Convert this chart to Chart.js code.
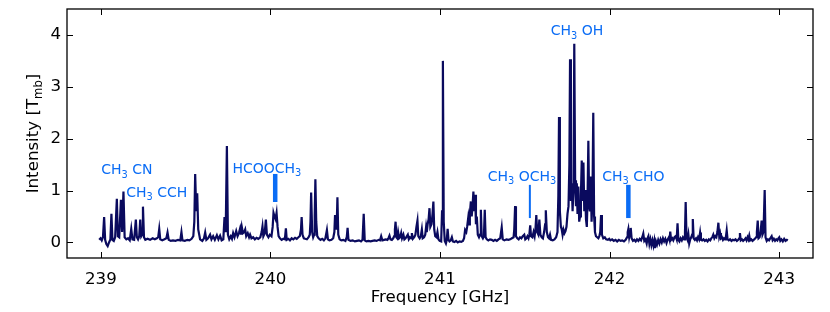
<!DOCTYPE html>
<html>
<head>
<meta charset="utf-8">
<title>Spectrum 239-243 GHz</title>
<script src="https://cdn.jsdelivr.net/npm/chart.js@4.4.1/dist/chart.umd.min.js"></script>
<style>
  html, body { margin: 0; padding: 0; background: #fff; }
  canvas { display: block; }
</style>
</head>
<body>
<canvas id="myChart" width="830" height="312"></canvas>
<script>
// spectrum: [frequency GHz, intensity T_mb], one array per GHz
const band239 = [
  [238.990, 0.05], [238.998, 0.08], [239.005, 0.04], [239.012, 0.10], [239.019, 0.49], [239.025, 0.05],
  [239.032, -0.03], [239.040, -0.07], [239.048, 0.00], [239.056, 0.06], [239.062, 0.55], [239.068, 0.05],
  [239.076, 0.03], [239.084, 0.10], [239.094, 0.84], [239.100, 0.12], [239.108, 0.10], [239.118, 0.82],
  [239.125, 0.20], [239.133, 0.98], [239.140, 0.10], [239.150, 0.06], [239.160, 0.08], [239.170, 0.04],
  [239.179, 0.26], [239.186, 0.06], [239.196, 0.05], [239.206, 0.44], [239.212, 0.10], [239.219, 0.06],
  [239.226, 0.12], [239.232, 0.44], [239.238, 0.12], [239.243, 0.15], [239.248, 0.69], [239.254, 0.10],
  [239.262, 0.05], [239.275, 0.07], [239.290, 0.05], [239.305, 0.08], [239.318, 0.06], [239.330, 0.08],
  [239.338, 0.10], [239.344, 0.26], [239.350, 0.06], [239.362, 0.04], [239.375, 0.06], [239.386, 0.08],
  [239.393, 0.19], [239.400, 0.05], [239.412, 0.03], [239.425, 0.04], [239.440, 0.03], [239.455, 0.05],
  [239.468, 0.04], [239.475, 0.20], [239.481, 0.04], [239.495, 0.03], [239.510, 0.05], [239.522, 0.04],
  [239.535, 0.07], [239.545, 0.12], [239.551, 0.40], [239.556, 1.32], [239.562, 0.60], [239.568, 0.95],
  [239.574, 0.25], [239.585, 0.06], [239.598, 0.03], [239.608, 0.08], [239.615, 0.19], [239.622, 0.05],
  [239.632, 0.08], [239.644, 0.15], [239.652, 0.06], [239.662, 0.12], [239.672, 0.05], [239.684, 0.14],
  [239.693, 0.06], [239.703, 0.13], [239.712, 0.04], [239.722, 0.06], [239.729, 0.49], [239.736, 0.20],
  [239.743, 1.86], [239.749, 0.15], [239.757, 0.06], [239.766, 0.12], [239.773, 0.07], [239.780, 0.18],
  [239.788, 0.10], [239.798, 0.22], [239.806, 0.12], [239.814, 0.18], [239.821, 0.27], [239.826, 0.15],
  [239.831, 0.30], [239.838, 0.18], [239.845, 0.20], [239.851, 0.25], [239.857, 0.12], [239.866, 0.18],
  [239.874, 0.10], [239.880, 0.15], [239.888, 0.08], [239.898, 0.10], [239.908, 0.06], [239.918, 0.09],
  [239.928, 0.07], [239.940, 0.10], [239.948, 0.20], [239.953, 0.31], [239.958, 0.12], [239.966, 0.18],
  [239.973, 0.44], [239.979, 0.15], [239.988, 0.10], [239.996, 0.15]
];

const band240 = [
  [240.006, 0.12], [240.013, 0.30], [240.018, 0.57], [240.024, 0.50], [240.030, 0.45], [240.036, 0.57],
  [240.042, 0.30], [240.048, 0.12], [240.056, 0.08], [240.066, 0.05], [240.076, 0.07], [240.085, 0.06],
  [240.091, 0.27], [240.096, 0.05], [240.105, 0.07], [240.115, 0.04], [240.125, 0.08], [240.135, 0.06],
  [240.145, 0.09], [240.155, 0.07], [240.165, 0.10], [240.173, 0.12], [240.180, 0.25], [240.184, 0.49],
  [240.189, 0.15], [240.197, 0.08], [240.205, 0.07], [240.215, 0.06], [240.225, 0.10], [240.232, 0.15],
  [240.236, 0.40], [240.240, 0.96], [240.246, 0.20], [240.252, 0.10], [240.258, 0.15], [240.261, 0.50],
  [240.265, 1.22], [240.270, 0.40], [240.276, 0.12], [240.284, 0.08], [240.295, 0.05], [240.305, 0.07],
  [240.315, 0.04], [240.324, 0.08], [240.333, 0.24], [240.339, 0.06], [240.348, 0.04], [240.360, 0.05],
  [240.370, 0.08], [240.377, 0.20], [240.381, 0.53], [240.386, 0.25], [240.391, 0.35], [240.395, 0.87],
  [240.400, 0.15], [240.408, 0.06], [240.418, 0.04], [240.430, 0.05], [240.442, 0.03], [240.450, 0.10],
  [240.455, 0.28], [240.460, 0.05], [240.472, 0.03], [240.485, 0.04], [240.498, 0.02], [240.510, 0.03],
  [240.522, 0.04], [240.534, 0.02], [240.543, 0.05], [240.550, 0.55], [240.556, 0.04], [240.566, 0.02],
  [240.578, 0.03], [240.590, 0.02], [240.602, 0.03], [240.614, 0.04], [240.626, 0.03], [240.638, 0.05],
  [240.646, 0.04], [240.653, 0.12], [240.660, 0.04], [240.670, 0.05], [240.680, 0.06], [240.690, 0.05],
  [240.697, 0.09], [240.702, 0.13], [240.708, 0.06], [240.716, 0.05], [240.724, 0.08], [240.730, 0.12],
  [240.734, 0.25], [240.738, 0.40], [240.743, 0.10], [240.748, 0.08], [240.753, 0.20], [240.759, 0.08],
  [240.765, 0.10], [240.771, 0.18], [240.776, 0.08], [240.784, 0.15], [240.790, 0.06], [240.797, 0.08],
  [240.804, 0.12], [240.810, 0.15], [240.816, 0.06], [240.823, 0.10], [240.830, 0.08], [240.834, 0.18],
  [240.840, 0.07], [240.848, 0.10], [240.855, 0.15], [240.861, 0.30], [240.867, 0.42], [240.872, 0.12],
  [240.880, 0.08], [240.887, 0.12], [240.893, 0.25], [240.898, 0.08], [240.906, 0.10], [240.913, 0.15],
  [240.918, 0.30], [240.922, 0.20], [240.927, 0.35], [240.933, 0.45], [240.938, 0.66], [240.943, 0.30],
  [240.950, 0.35], [240.956, 0.55], [240.961, 0.79], [240.966, 0.25], [240.972, 0.12], [240.979, 0.10],
  [240.985, 0.20], [240.991, 0.06], [240.998, 0.03]
];

const band241 = [
  [241.007, 0.02], [241.012, 0.60], [241.017, 3.50], [241.022, 0.40], [241.028, 0.03], [241.035, -0.02],
  [241.040, 0.05], [241.045, 0.26], [241.050, 0.05], [241.056, 0.02], [241.063, 0.04], [241.070, 0.10],
  [241.076, 0.02], [241.085, 0.01], [241.095, 0.03], [241.105, 0.00], [241.115, 0.02], [241.125, 0.01],
  [241.135, 0.03], [241.142, 0.08], [241.148, 0.24], [241.155, 0.20], [241.160, 0.30], [241.167, 0.49],
  [241.172, 0.35], [241.176, 0.55], [241.182, 0.79], [241.187, 0.50], [241.192, 0.70], [241.197, 0.98],
  [241.202, 0.60], [241.207, 0.92], [241.212, 0.35], [241.217, 0.50], [241.223, 0.15], [241.230, 0.10],
  [241.236, 0.15], [241.241, 0.63], [241.246, 0.12], [241.253, 0.08], [241.259, 0.12], [241.264, 0.63],
  [241.269, 0.10], [241.276, 0.06], [241.285, 0.04], [241.295, 0.06], [241.305, 0.05], [241.315, 0.03],
  [241.325, 0.05], [241.335, 0.03], [241.345, 0.06], [241.355, 0.08], [241.364, 0.29], [241.370, 0.06],
  [241.380, 0.04], [241.392, 0.06], [241.404, 0.05], [241.414, 0.06], [241.424, 0.08], [241.434, 0.10],
  [241.438, 0.25], [241.443, 0.70], [241.448, 0.12], [241.456, 0.08], [241.464, 0.06], [241.472, 0.10],
  [241.480, 0.08], [241.488, 0.12], [241.497, 0.15], [241.503, 0.06], [241.510, 0.08], [241.516, 0.12],
  [241.522, 0.08], [241.527, 0.15], [241.532, 0.33], [241.537, 0.12], [241.545, 0.10], [241.552, 0.20],
  [241.558, 0.12], [241.563, 0.25], [241.568, 0.53], [241.573, 0.20], [241.580, 0.15], [241.586, 0.44],
  [241.592, 0.15], [241.600, 0.10], [241.607, 0.08], [241.614, 0.20], [241.620, 0.35], [241.624, 0.62],
  [241.630, 0.20], [241.637, 0.10], [241.643, 0.08], [241.649, 0.15], [241.655, 0.05], [241.665, 0.04],
  [241.675, 0.06], [241.685, 0.10], [241.693, 0.20], [241.698, 0.90], [241.702, 2.42], [241.707, 0.60],
  [241.713, 0.30], [241.718, 0.25], [241.723, 0.15], [241.728, 0.25], [241.734, 0.18], [241.740, 0.22],
  [241.746, 0.30], [241.752, 0.55], [241.758, 0.70], [241.763, 1.50], [241.767, 3.53], [241.772, 0.80],
  [241.777, 1.14], [241.782, 0.60], [241.787, 1.00], [241.792, 3.83], [241.797, 1.20], [241.802, 0.70],
  [241.807, 1.14], [241.811, 0.55], [241.816, 1.08], [241.821, 0.40], [241.826, 0.50], [241.831, 0.90],
  [241.836, 1.58], [241.841, 0.80], [241.846, 1.54], [241.851, 0.60], [241.856, 1.01], [241.861, 0.45],
  [241.866, 0.30], [241.870, 0.80], [241.875, 1.96], [241.880, 0.70], [241.884, 0.60], [241.889, 1.27],
  [241.894, 0.40], [241.899, 0.80], [241.904, 2.50], [241.909, 0.50], [241.914, 0.20], [241.920, 0.12],
  [241.927, 0.10], [241.934, 0.08], [241.940, 0.12], [241.945, 0.20], [241.950, 0.53], [241.955, 0.15],
  [241.963, 0.08], [241.972, 0.10], [241.980, 0.06], [241.990, 0.05], [241.998, 0.07]
];

const band242 = [
  [242.005, 0.04], [242.015, 0.06], [242.025, 0.03], [242.035, 0.05], [242.045, 0.02], [242.055, 0.05],
  [242.065, 0.03], [242.075, 0.04], [242.085, 0.02], [242.095, 0.05], [242.103, 0.10], [242.107, 0.20],
  [242.111, 0.26], [242.116, 0.10], [242.121, 0.18], [242.125, 0.28], [242.130, 0.08], [242.138, 0.03],
  [242.146, 0.05], [242.154, 0.02], [242.162, 0.06], [242.170, 0.03], [242.178, 0.07], [242.186, 0.04],
  [242.193, 0.10], [242.199, 0.17], [242.205, 0.03], [242.212, 0.06], [242.219, -0.02], [242.224, 0.08],
  [242.229, 0.12], [242.235, -0.03], [242.241, 0.06], [242.247, -0.05], [242.253, 0.04], [242.259, -0.06],
  [242.264, 0.03], [242.268, -0.11], [242.274, 0.02], [242.280, -0.04], [242.287, 0.05], [242.294, -0.02],
  [242.301, 0.06], [242.308, 0.00], [242.315, 0.08], [242.322, 0.02], [242.329, 0.07], [242.336, -0.01],
  [242.343, 0.06], [242.350, 0.10], [242.354, 0.05], [242.358, 0.21], [242.363, 0.05], [242.370, 0.08],
  [242.376, 0.04], [242.383, 0.10], [242.390, 0.12], [242.396, 0.06], [242.401, 0.37], [242.406, 0.05],
  [242.412, 0.02], [242.419, 0.08], [242.426, 0.04], [242.433, 0.10], [242.440, 0.06], [242.445, 0.20],
  [242.449, 0.78], [242.454, 0.10], [242.460, 0.05], [242.465, 0.15], [242.470, -0.02], [242.476, 0.06],
  [242.482, 0.10], [242.487, 0.15], [242.491, 0.45], [242.496, 0.08], [242.503, 0.05], [242.510, 0.08],
  [242.516, 0.04], [242.522, 0.10], [242.528, 0.06], [242.534, 0.19], [242.539, 0.05], [242.546, 0.04],
  [242.554, 0.06], [242.562, 0.03], [242.570, 0.05], [242.578, 0.02], [242.586, 0.06], [242.594, 0.04],
  [242.600, 0.08], [242.606, 0.10], [242.612, 0.15], [242.618, 0.08], [242.624, 0.12], [242.630, 0.10],
  [242.636, 0.20], [242.642, 0.38], [242.647, 0.12], [242.652, 0.18], [242.657, 0.08], [242.663, 0.10],
  [242.669, 0.05], [242.675, 0.08], [242.681, 0.06], [242.686, 0.10], [242.691, 0.23], [242.696, 0.06],
  [242.703, 0.04], [242.711, 0.06], [242.719, 0.03], [242.727, 0.05], [242.735, 0.04], [242.743, 0.06],
  [242.751, 0.03], [242.759, 0.05], [242.765, 0.08], [242.769, 0.18], [242.774, 0.04], [242.781, 0.06],
  [242.788, 0.03], [242.795, 0.05], [242.802, 0.08], [242.808, 0.04], [242.814, 0.10], [242.819, 0.06],
  [242.824, 0.13], [242.829, 0.04], [242.836, 0.06], [242.843, 0.03], [242.850, 0.05], [242.857, 0.07],
  [242.864, 0.10], [242.869, 0.20], [242.874, 0.42], [242.879, 0.08], [242.885, 0.10], [242.891, 0.20],
  [242.897, 0.42], [242.902, 0.15], [242.908, 0.20], [242.915, 1.01], [242.920, 0.10], [242.927, 0.03],
  [242.934, 0.06], [242.941, 0.04], [242.948, 0.08], [242.956, 0.12], [242.962, 0.04], [242.969, 0.07],
  [242.976, 0.03], [242.983, 0.06], [242.990, 0.04], [242.996, 0.08], [243.001, 0.10], [243.007, 0.03],
  [243.014, 0.06], [243.022, 0.02], [243.030, 0.07], [243.038, 0.03], [243.046, 0.05], [243.052, 0.04]
];

// axis ticks
const freqTicks = [239, 240, 241, 242, 243];
const intensityTicks = [0, 1, 2, 3, 4];

// line identification markers (vertical bars)
const markerFreq = [240.028, 241.530, 242.111];
const markerLow = [0.78, 0.47, 0.47];
const markerHigh = [1.32, 1.11, 1.11];
const markerLineWidths = [4.5, 2, 4.5];

// molecule labels, anchored at the left end of the text baseline (data units)
const labelText = ['CH_3 CN', 'CH_3 CCH', 'HCOOCH_3', 'CH_3 OCH_3', 'CH_3 OH', 'CH_3 CHO'];
const labelFreq = [239.002, 239.149, 239.776, 241.282, 241.653, 241.957];
const labelTmb = [1.31, 0.885, 1.345, 1.19, 3.99, 1.19];

const spectrumColor = '#0a0a5e';
const labelColor = '#0a6cf5';
const fontFamily = '"DejaVu Sans", "Liberation Sans", sans-serif';

// draws text with _x or _{xy} subscripts, returns its width
function drawRich(ctx, text, x, y, size, measureOnly) {
  const parts = text.split(/(_\{[^}]*\}|_.)/).filter(p => p);
  let cx = x;
  for (const p of parts) {
    if (p[0] === '_') {
      const s = p[1] === '{' ? p.slice(2, -1) : p.slice(1);
      ctx.font = (size * 0.7) + 'px ' + fontFamily;
      if (!measureOnly) ctx.fillText(s, cx, y + size * 0.22);
      cx += ctx.measureText(s).width;
    } else {
      ctx.font = size + 'px ' + fontFamily;
      if (!measureOnly) ctx.fillText(p, cx, y);
      cx += ctx.measureText(p).width;
    }
  }
  return cx - x;
}

// frame with inward ticks on all four sides, labels and the y title
const frameAndText = {
  id: 'frameAndText',
  afterDraw(chart) {
    const { ctx, chartArea: a, scales: { x, y } } = chart;
    ctx.save();
    ctx.strokeStyle = '#000';
    ctx.lineWidth = 1.3;
    ctx.strokeRect(a.left, a.top, a.right - a.left, a.bottom - a.top);
    ctx.lineWidth = 1;
    ctx.beginPath();
    for (const v of freqTicks) {
      const px = Math.round(x.getPixelForValue(v)) + 0.5;
      ctx.moveTo(px, a.bottom); ctx.lineTo(px, a.bottom - 6);
      ctx.moveTo(px, a.top); ctx.lineTo(px, a.top + 6);
    }
    for (const v of intensityTicks) {
      const py = Math.round(y.getPixelForValue(v)) + 0.5;
      ctx.moveTo(a.left, py); ctx.lineTo(a.left + 6, py);
      ctx.moveTo(a.right, py); ctx.lineTo(a.right - 6, py);
    }
    ctx.stroke();

    // molecule labels
    ctx.fillStyle = labelColor;
    ctx.textBaseline = 'alphabetic';
    ctx.textAlign = 'left';
    labelText.forEach((t, i) => {
      drawRich(ctx, t, x.getPixelForValue(labelFreq[i]), y.getPixelForValue(labelTmb[i]), 14);
    });

    // y axis title with subscript
    ctx.fillStyle = '#000';
    const yTitle = 'Intensity [T_{mb}]';
    const w = drawRich(ctx, yTitle, 0, 0, 16.67, true);
    ctx.translate(38, (a.top + a.bottom) / 2);
    ctx.rotate(-Math.PI / 2);
    drawRich(ctx, yTitle, -w / 2, 0, 16.67);
    ctx.restore();
  }
};

const spectrum = band239.concat(band240, band241, band242).map(([f, t]) => ({ x: f, y: t }));

const datasets = [
  {
    data: spectrum,
    showLine: true,
    borderColor: spectrumColor,
    borderWidth: 2.2,
    pointRadius: 0,
    tension: 0
  }
];
markerFreq.forEach((f, i) => {
  datasets.push({
    data: [{ x: f, y: markerLow[i] }, { x: f, y: markerHigh[i] }],
    showLine: true,
    borderColor: labelColor,
    borderWidth: markerLineWidths[i],
    borderCapStyle: 'butt',
    pointRadius: 0
  });
});

const tickFont = { family: fontFamily, size: 16.67 };

const config = {
  type: 'scatter',
  data: { datasets },
  options: {
    responsive: false,
    animation: false,
    devicePixelRatio: 1,
    layout: { padding: { top: 9, right: 17, left: 0, bottom: 0 } },
    plugins: { legend: { display: false }, tooltip: { enabled: false } },
    scales: {
      x: {
        type: 'linear',
        min: 238.8,
        max: 243.2,
        afterBuildTicks: s => { s.ticks = freqTicks.map(v => ({ value: v })); },
        afterFit: s => { s.height = 54; s.paddingLeft = 0; s.paddingRight = 0; },
        grid: { display: false, drawTicks: false },
        border: { display: false },
        ticks: { font: tickFont, color: '#000', padding: 12, maxRotation: 0, callback: v => String(v) },
        title: { display: true, text: 'Frequency [GHz]', font: tickFont, color: '#000', padding: { top: 0, bottom: 4 } }
      },
      y: {
        type: 'linear',
        min: -0.3,
        max: 4.5,
        afterBuildTicks: s => { s.ticks = intensityTicks.map(v => ({ value: v })); },
        afterFit: s => { s.width = 67; s.paddingTop = 0; s.paddingBottom = 0; },
        grid: { display: false, drawTicks: false },
        border: { display: false },
        ticks: { font: tickFont, color: '#000', padding: 6, callback: v => String(v) }
      }
    }
  },
  plugins: [frameAndText]
};

const chart = new Chart(document.getElementById('myChart'), config);
</script>
</body>
</html>
